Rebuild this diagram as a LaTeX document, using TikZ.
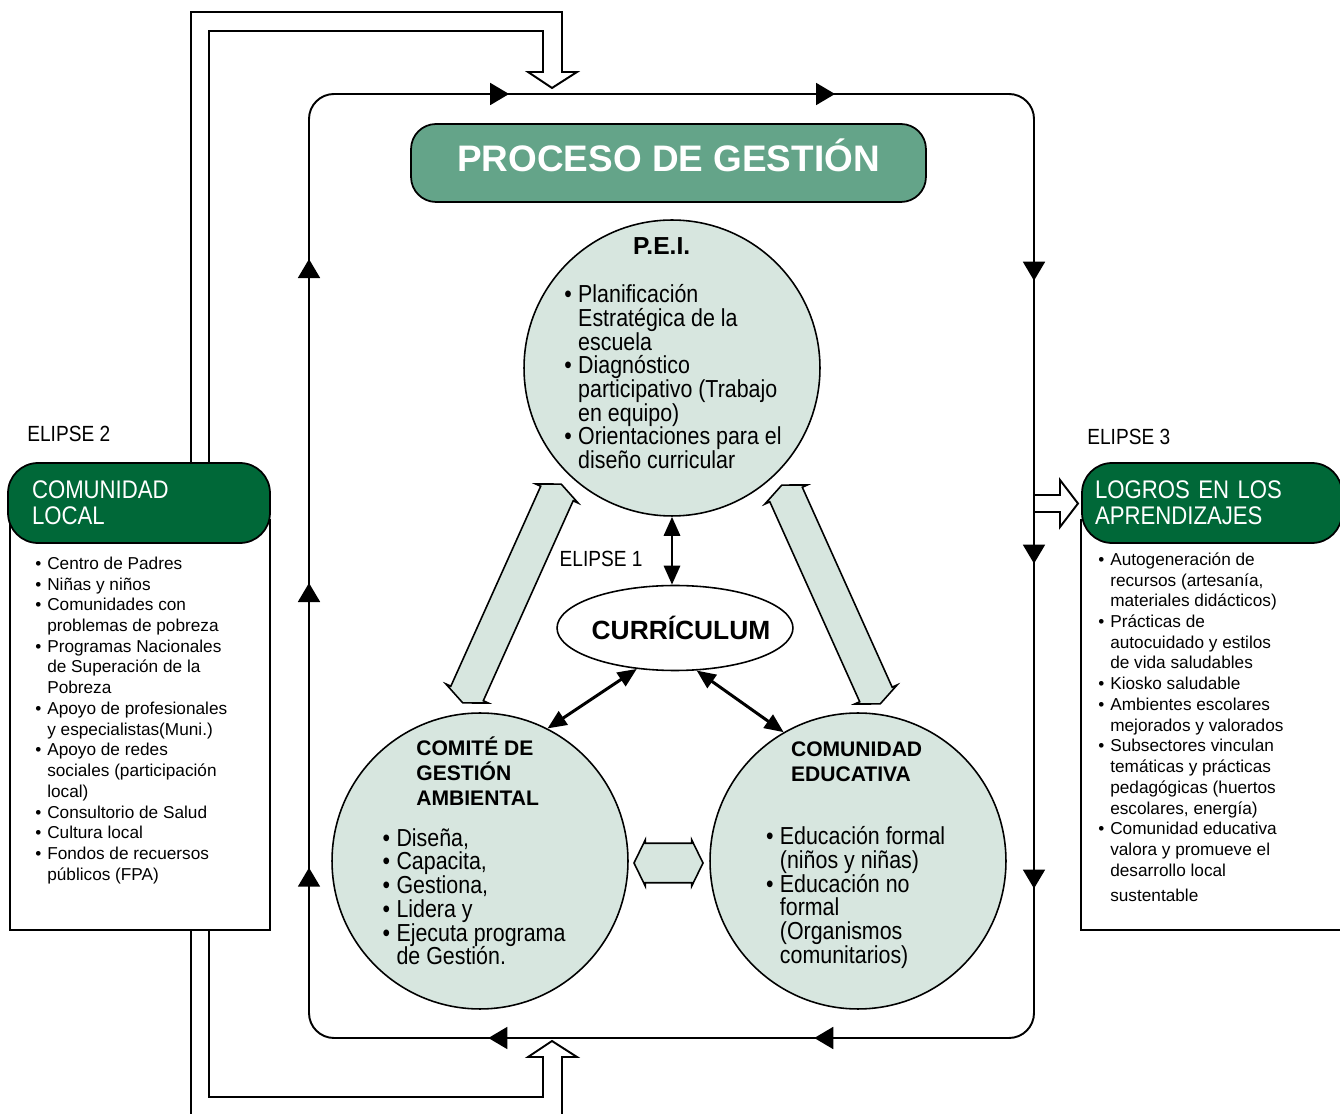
\documentclass[tikz,border=0pt]{standalone}
\usepackage{fontspec}
\setmainfont{Liberation Sans}
\newfontfamily\narrowfont[FakeStretch=0.87]{Liberation Sans}
\usetikzlibrary{arrows.meta,shapes.arrows,shapes.geometric,decorations.markings}

\definecolor{circfill}{RGB}{215,230,223}
\definecolor{titlegreen}{RGB}{100,164,137}
\definecolor{headgreen}{RGB}{0,104,56}

% bullets for the lists
\newcommand{\lb}{\makebox[6.8pt][l]{\textbullet}}
\newcommand{\lc}{\hspace*{6.8pt}}
\newcommand{\cb}{\makebox[7.9pt][l]{\textbullet}}
\newcommand{\cc}{\hspace*{7.9pt}}
\newcommand{\tops}[1]{\rule{0pt}{#1}}

\tikzset{loop tip/.tip={Triangle[length=0.38cm,width=0.44cm]}}

\begin{document}
\begin{tikzpicture}[x=0.02cm, y=-0.02cm,
  line/.style={line width=1.1pt},
  circ/.style={circle, draw, line width=0.9pt, fill=circfill, minimum size=5.92cm, inner sep=0pt},
  title/.style={draw, line width=1pt, fill=titlegreen, rounded corners=0.5cm, minimum width=10.3cm, minimum height=1.56cm, text=white,
    text height=15pt, text depth=5pt, font={\bfseries\fontsize{21}{24}\selectfont}},
  head/.style={draw, line width=1pt, fill=headgreen, rounded corners=0.6cm, minimum height=1.6cm, text=white, align=left, font={\narrowfont\fontsize{14.5}{15}\selectfont\lineskiplimit=-10pt}},
  body/.style={draw, line width=1pt, fill=white, minimum height=8.2cm},
  listtxt/.style={anchor=north west, inner sep=0pt, align=left, font={\fontsize{9.8}{11.8}\selectfont\lineskiplimit=-10pt}},
  circtxt/.style={anchor=north west, inner sep=0pt, align=left, font={\narrowfont\fontsize{14}{13.5}\selectfont\lineskiplimit=-10pt}},
  circhead/.style={anchor=north west, inner sep=0pt, align=left, font={\bfseries\fontsize{12}{14.4}\selectfont\lineskiplimit=-10pt}},
  elipse/.style={anchor=base west, inner sep=0pt, font={\narrowfont\fontsize{12.5}{15}\selectfont}},
  bigarrow/.style={double arrow, draw, line width=0.9pt, fill=circfill, inner xsep=0pt},
  dbl/.style={{Triangle[length=0.38cm,width=0.32cm]}-{Triangle[length=0.38cm,width=0.32cm]}, line width=1.7pt},
  loopmarks/.style={postaction={decorate}, decoration={markings,
    mark=at position 0.64cm with {\arrow{loop tip}},
    mark=at position 7.12cm with {\arrow{loop tip}},
    mark=at position 14.21cm with {\arrow{loop tip}},
    mark=at position 20.73cm with {\arrow{loop tip}},
    mark=at position 28.23cm with {\arrow{loop tip}},
    mark=at position 33.89cm with {\arrow{loop tip}},
    mark=at position 40.39cm with {\arrow{loop tip}},
    mark=at position 47.56cm with {\arrow{loop tip}},
    mark=at position 54.08cm with {\arrow{loop tip}},
    mark=at position 60.86cm with {\arrow{loop tip}}}}
]
\useasboundingbox (0,0) rectangle (1340,1114);

  % Feedback from the local community
  \draw[line] (191,1120) -- (191,12) -- (562,12) -- (562,72) -- (577,72) -- (552,88) -- (528,72) -- (543,72) -- (543,31) -- (209,31)
    -- (209,1097) -- (543,1097) -- (543,1057) -- (528,1057) -- (552,1041) -- (577,1057) -- (562,1057) -- (562,1120);

  % Process loop
  \coordinate (lm) at (309,640);
  \coordinate (tl) at (309,94);
  \coordinate (tr) at (1034,94);
  \coordinate (br) at (1034,1038);
  \coordinate (bl) at (309,1038);
  \draw[line, rounded corners=0.5cm, loopmarks] (lm) -- (tl) -- (tr) -- (br) -- (bl) -- cycle;

  % Outcome arrow
  \draw[line] (1034,495) -- (1060,495) -- (1060,480) -- (1078,503.5) -- (1060,527) -- (1060,512) -- (1034,512);

  % Side boxes
  \node[body, minimum width=5.2cm] (clbody) at (140,725) {};
  \node[body, minimum width=5.6cm] (lgbody) at (1221,725) {};
  \node[head, text width=4.28cm, inner xsep=0.48cm] (clhead) at (139,503) {COMUNIDAD\\LOCAL};
  \node[head, text width=4.68cm, inner xsep=0.26cm] (lghead) at (1212,503) {LOGROS EN LOS\\APRENDIZAJES};

  \node[elipse] (e2) at (27,441.7) {ELIPSE 2};
  \node[elipse] (e3) at (1087,445) {ELIPSE 3};
  \node[elipse] (e1) at (559.3,566.7) {ELIPSE 1};

  \node[listtxt] (cllist) at (35,554.9) {\tops{8pt}\lb Centro de Padres\\
    \lb Niñas y niños\\
    \lb Comunidades con\\
    \lc problemas de pobreza\\
    \lb Programas Nacionales\\
    \lc de Superación de la\\
    \lc Pobreza\\
    \lb Apoyo de profesionales\\
    \lc y especialistas(Muni.)\\
    \lb Apoyo de redes\\
    \lc sociales (participación\\
    \lc local)\\
    \lb Consultorio de Salud\\
    \lb Cultura local\\
    \lb Fondos de recuersos\\
    \lc públicos (FPA)};

  \node[listtxt] (lglist) at (1098,550.9) {\tops{8pt}\lb Autogeneración de\\
    \lc recursos (artesanía,\\
    \lc materiales didácticos)\\
    \lb Prácticas de\\
    \lc autocuidado y estilos\\
    \lc de vida saludables\\
    \lb Kiosko saludable\\
    \lb Ambientes escolares\\
    \lc mejorados y valorados\\
    \lb Subsectores vinculan\\
    \lc temáticas y prácticas\\
    \lc pedagógicas (huertos\\
    \lc escolares, energía)\\
    \lb Comunidad educativa\\
    \lc valora y promueve el\\
    \lc desarrollo local\\[2.4pt]
    \lc sustentable};

  % Title
  \node[title] (proc) at (668.5,163) {PROCESO DE GESTIÓN};

  % Big arrows between the circles
  \node[bigarrow, inner ysep=0.34cm, minimum height=4.8cm, double arrow head extend=0.11cm, double arrow tip angle=132, rotate=65.8] (leftbig) at (512,593.5) {};
  \node[bigarrow, inner ysep=0.34cm, minimum height=4.8cm, double arrow head extend=0.11cm, double arrow tip angle=132, rotate=114.2] (rightbig) at (831,594.5) {};
  \node[bigarrow, inner ysep=0.38cm, minimum height=1.38cm, double arrow head extend=0.07cm, double arrow tip angle=128] (midbig) at (668.5,863) {};

  % Circles
  \node[circ] (pei) at (672,368) {};
  \node[circ] (com) at (480,861) {};
  \node[circ] (edu) at (858,861) {};
  \node[ellipse, draw, line width=0.9pt, fill=white, minimum width=4.72cm, minimum height=1.7cm, inner sep=0pt] (curr) at (675,628) {};
  \node[inner sep=0pt, font={\bfseries\fontsize{15}{17}\selectfont}] (currtxt) at (681,628) {CURRÍCULUM};

  \node[anchor=base, inner sep=0pt, font={\bfseries\fontsize{14}{16}\selectfont}] (peititle) at (661.7,255) {P.E.I.};
  \node[circtxt] (peilist) at (564,282.9) {\tops{11pt}\cb Planificación\\
    \cc Estratégica de la\\
    \cc escuela\\
    \cb Diagnóstico\\
    \cc participativo (Trabajo\\
    \cc en equipo)\\
    \cb Orientaciones para el\\
    \cc diseño curricular};

  \node[circhead] (comhead) at (416,734.7) {\tops{11.5pt}COMITÉ DE\\GESTIÓN\\AMBIENTAL};
  \node[circtxt] (comlist) at (382.3,826.6) {\tops{11pt}\cb Diseña,\\
    \cb Capacita,\\
    \cb Gestiona,\\
    \cb Lidera y\\
    \cb Ejecuta programa\\
    \cc de Gestión.};

  \node[circhead] (eduhead) at (790.7,735.7) {\tops{11.5pt}COMUNIDAD\\EDUCATIVA};
  \node[circtxt] (edulist) at (765.7,824.9) {\tops{11pt}\cb Educación formal\\
    \cc (niños y niñas)\\
    \cb Educación no\\
    \cc formal\\
    \cc (Organismos\\
    \cc comunitarios)};

  % Links to the curriculum
  \draw[dbl] (pei.south) -- (pei.south |- curr.north);
  \draw[dbl] (curr.227) -- (com.63);
  \draw[dbl] (curr.297) -- (edu.120);

\end{tikzpicture}
\end{document}
